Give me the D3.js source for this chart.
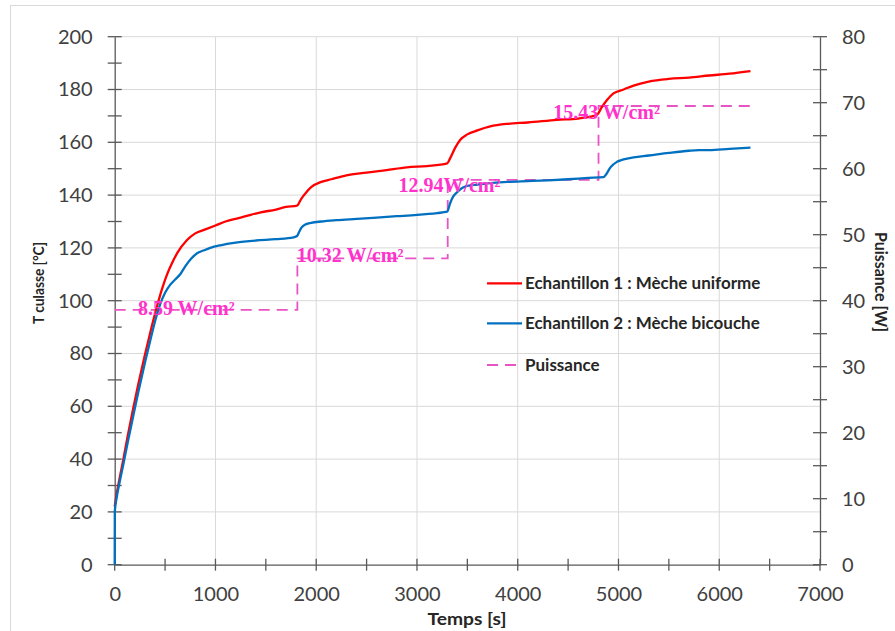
<!DOCTYPE html>
<html>
<head>
<meta charset="utf-8">
<script src="https://cdn.jsdelivr.net/npm/d3@7"></script>
<style>
  body { margin: 0; background: #fff; }
  svg { display: block; }
</style>
</head>
<body>
<svg width="895" height="631"></svg>
<script>
// Echantillon 1 : Mèche uniforme
var timeUniforme = [0, 20, 50, 86, 130, 185, 235, 300, 350, 417, 470, 520, 566, 620, 718, 800, 900, 1000, 1100, 1200, 1300, 1450, 1600, 1700, 1810, 1850, 1900, 1950, 2050, 2150, 2300, 2500, 2700, 2900, 3100, 3300, 3330, 3380, 3430, 3500, 3600, 3727, 3900, 4100, 4389, 4600, 4753, 4790, 4830, 4886, 4950, 5051, 5150, 5300, 5500, 5700, 5900, 6100, 6310];
var tempUniforme = [22, 27, 33, 40, 49, 59.5, 68.5, 79.5, 87.5, 97.5, 104.5, 110, 114, 118, 123, 125.5, 127, 128.5, 130, 131, 132, 133.5, 134.5, 135.5, 136, 138.5, 141, 143, 145, 146, 147.5, 148.5, 149.5, 150.5, 151, 152, 154, 158, 161, 163, 164.5, 166, 167, 167.5, 168.5, 169, 170, 170.5, 173, 176, 178.5, 180, 181.5, 183, 184, 184.5, 185.3, 186, 187];

// Echantillon 2 : Mèche bicouche
var timeBicouche = [0, 1, 20, 50, 86, 130, 185, 235, 300, 350, 417, 450, 500, 550, 600, 650, 700, 760, 818, 880, 948, 1050, 1200, 1400, 1600, 1775, 1810, 1830, 1850, 1900, 1950, 2050, 2200, 2400, 2600, 2800, 3000, 3200, 3300, 3330, 3360, 3396, 3440, 3500, 3600, 3727, 3900, 4100, 4300, 4500, 4700, 4852, 4880, 4920, 4985, 5050, 5150, 5300, 5500, 5700, 5800, 5900, 6100, 6310];
var tempBicouche = [0, 20, 25.5, 31.5, 38, 46.5, 56.5, 65.5, 76.5, 84.5, 94.5, 98.5, 103, 106, 108, 110, 113, 116, 118, 119, 120, 121, 122, 122.8, 123.3, 124, 124.5, 126, 127.5, 129, 129.5, 130, 130.5, 131, 131.5, 132, 132.5, 133.2, 133.7, 137, 139.5, 141, 142.5, 143.5, 144, 144.5, 145, 145.3, 145.6, 146, 146.5, 146.8, 148, 150.5, 152.6, 153.5, 154.3, 155, 156, 156.8, 157, 157, 157.5, 158];

// Puissance [W] (axe de droite)
var timePuissance = [0, 1813, 1813, 3305, 3305, 4802, 4802, 6310];
var puissance = [38.6, 38.6, 46.4, 46.4, 58.3, 58.3, 69.5, 69.5];

// annotations of flux density
var fluxLabels = ["8.59 W/cm²", "10.32 W/cm²", "12.94W/cm²", "15.43 W/cm²"];
var fluxTimes = [231, 1807, 2816, 4352];
var fluxPowers = [37.8, 45.9, 56.4, 67.6];

var legendLabels = ["Echantillon 1 : Mèche uniforme", "Echantillon 2 : Mèche bicouche", "Puissance"];

var xTicks = [0, 1000, 2000, 3000, 4000, 5000, 6000, 7000];
var yLeftTicks = [0, 20, 40, 60, 80, 100, 120, 140, 160, 180, 200];
var yRightTicks = [0, 10, 20, 30, 40, 50, 60, 70, 80];

var svg = d3.select("svg");
var mLeft = 114.7, mRight = 820, mTop = 36.7, mBottom = 564.7;
var axisColor = "#595959", gridColor = "#d9d9d9";
var tickFont = "Lato, 'Open Sans', sans-serif";

var x = d3.scaleLinear().domain([0, 7000]).range([mLeft, mRight]);
var yL = d3.scaleLinear().domain([0, 200]).range([mBottom, mTop]);
var yR = d3.scaleLinear().domain([0, 80]).range([mBottom, mTop]);

// outer frame
svg.append("rect")
  .attr("x", 10.5).attr("y", 5.5)
  .attr("width", 900).attr("height", 640)
  .attr("fill", "none")
  .attr("stroke", "#d9d9d9");

// grid
var grid = svg.append("g");
grid.selectAll("line.h")
  .data(yLeftTicks.slice(1))
  .enter().append("line")
  .attr("x1", mLeft).attr("x2", mRight)
  .attr("y1", function(d) { return yL(d); })
  .attr("y2", function(d) { return yL(d); })
  .attr("stroke", gridColor).attr("stroke-width", 1);
grid.selectAll("line.v")
  .data(xTicks.slice(1, -1))
  .enter().append("line")
  .attr("y1", mTop).attr("y2", mBottom)
  .attr("x1", function(d) { return x(d); })
  .attr("x2", function(d) { return x(d); })
  .attr("stroke", gridColor).attr("stroke-width", 1);

// axes (labels from d3 axes, crossing ticks drawn below)
function styleAxis(g) {
  g.select(".domain").attr("stroke", axisColor).attr("stroke-width", 1.3);
  g.selectAll(".tick line").remove();
  g.selectAll(".tick text")
    .attr("fill", "#404040")
    .style("font-family", tickFont)
    .style("font-size", "20px");
}

svg.append("g")
  .attr("transform", "translate(0," + mBottom + ")")
  .call(d3.axisBottom(x).tickValues(xTicks).tickFormat(d3.format("d"))
    .tickSizeOuter(0).tickSize(0).tickPadding(22))
  .call(styleAxis);

svg.append("g")
  .attr("transform", "translate(" + mLeft + ",0)")
  .call(d3.axisLeft(yL).tickValues(yLeftTicks).tickSizeOuter(0).tickSize(0).tickPadding(22))
  .call(styleAxis);

svg.append("g")
  .attr("transform", "translate(" + mRight + ",0)")
  .call(d3.axisRight(yR).tickValues(yRightTicks).tickSizeOuter(0).tickSize(0).tickPadding(22))
  .call(styleAxis);

var ticks = svg.append("g").attr("stroke", axisColor).attr("stroke-width", 1.3);
ticks.selectAll("line.xt")
  .data(d3.range(0, 7001, 500))
  .enter().append("line")
  .attr("x1", function(d) { return x(d); })
  .attr("x2", function(d) { return x(d); })
  .attr("y1", mBottom - 6).attr("y2", mBottom + 6);
ticks.selectAll("line.ylt")
  .data(d3.range(0, 201, 10))
  .enter().append("line")
  .attr("y1", function(d) { return yL(d); })
  .attr("y2", function(d) { return yL(d); })
  .attr("x1", mLeft - 7).attr("x2", mLeft + 7);
ticks.selectAll("line.yrt")
  .data(d3.range(0, 81, 5))
  .enter().append("line")
  .attr("y1", function(d) { return yR(d); })
  .attr("y2", function(d) { return yR(d); })
  .attr("x1", mRight - 7).attr("x2", mRight + 7);

// series
var lineL = d3.line()
  .x(function(d) { return x(d[0]); })
  .y(function(d) { return yL(d[1]); })
  .curve(d3.curveMonotoneX);
var lineR = d3.line()
  .x(function(d) { return x(d[0]); })
  .y(function(d) { return yR(d[1]); });

svg.append("path")
  .datum(d3.zip(timePuissance, puissance))
  .attr("d", lineR)
  .attr("fill", "none")
  .attr("stroke", "#e754c4")
  .attr("stroke-width", 1.8)
  .attr("stroke-dasharray", "11,7");

svg.append("path")
  .datum(d3.zip(timeUniforme, tempUniforme))
  .attr("d", lineL)
  .attr("fill", "none")
  .attr("stroke", "#ff0000")
  .attr("stroke-width", 2.3);

svg.append("path")
  .datum(d3.zip(timeBicouche, tempBicouche))
  .attr("d", lineL)
  .attr("fill", "none")
  .attr("stroke", "#0070c0")
  .attr("stroke-width", 2.3);

// flux annotations
svg.append("g").selectAll("text")
  .data(fluxLabels)
  .enter().append("text")
  .attr("x", function(d, i) { return x(fluxTimes[i]); })
  .attr("y", function(d, i) { return yR(fluxPowers[i]); })
  .text(function(d) { return d; })
  .attr("fill", "#ff33cc")
  .style("font-family", "'Liberation Serif', 'Times New Roman', serif")
  .style("font-weight", "bold")
  .style("font-size", "20px");

// legend
var legendColors = ["#ff0000", "#0070c0", "#e754c4"];
var legendY = [283.3, 323.3, 365];
var legend = svg.append("g");
legend.selectAll("line")
  .data(legendLabels)
  .enter().append("line")
  .attr("x1", 487).attr("x2", 522)
  .attr("y1", function(d, i) { return legendY[i]; })
  .attr("y2", function(d, i) { return legendY[i]; })
  .attr("stroke", function(d, i) { return legendColors[i]; })
  .attr("stroke-width", function(d, i) { return i == 2 ? 1.8 : 2.3; })
  .attr("stroke-dasharray", function(d, i) { return i == 2 ? "11,7" : null; });
legend.selectAll("text")
  .data(legendLabels)
  .enter().append("text")
  .attr("x", 525)
  .attr("y", function(d, i) { return legendY[i] + 5.5; })
  .text(function(d) { return d; })
  .attr("fill", "#262626")
  .style("font-family", tickFont)
  .style("font-weight", "bold")
  .style("font-size", "17px");

// axis titles
function axisTitle(label, transform, size, len) {
  var t = svg.append("text")
    .attr("transform", transform)
    .attr("text-anchor", "middle")
    .text(label)
    .attr("fill", "#262626")
    .style("font-family", tickFont)
    .style("font-weight", "bold")
    .style("font-size", size + "px");
  if (len) t.attr("textLength", len).attr("lengthAdjust", "spacingAndGlyphs");
}
axisTitle("T culasse [°C]", "translate(44,283) rotate(-90)", 15, 82);
axisTitle("Puissance [W]", "translate(875,282) rotate(90)", 17, 100);
axisTitle("Temps [s]", "translate(467,625)", 17, 79);
</script>
</body>
</html>
